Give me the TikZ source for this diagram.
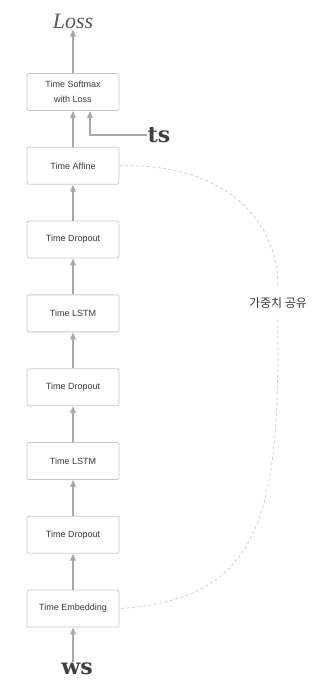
\documentclass[tikz,border=0pt]{standalone}
\usepackage{fontspec}
\setsansfont{Liberation Sans}
\newfontfamily\krfont{Noto Sans CJK KR}
\newfontfamily\lossfont{Liberation Serif}
\newfontfamily\wordfont{DejaVu Serif}
\usetikzlibrary{positioning, arrows.meta}
\definecolor{boxline}{HTML}{C8C8C8}
\definecolor{arrgray}{HTML}{A8A8A8}
\definecolor{txtgray}{HTML}{3A3A3A}

\begin{document}
\begin{tikzpicture}[
  x=1pt, y=1pt,
  >={Triangle[length=7pt, width=5.5pt]},
  every node/.style={font=\sffamily\fontsize{9}{11}\selectfont, text=txtgray},
  layer/.style = {draw=boxline, line width=0.8pt, rounded corners=2pt, align=center,
                  minimum width=92pt, minimum height=37pt, inner sep=2pt},
  arr/.style   = {->, line width=1.5pt, arrgray},
  share/.style = {dashed, dash pattern=on 3pt off 2.5pt, line width=0.7pt, boxline},
]
  \useasboundingbox (0,0) rectangle (335,685);
  % Column of layers, bottom input ws, top Loss
  \node[layer]                      (sm)   at (73,593) {Time Softmax\\[4pt]with Loss};
  \node[layer, below=36pt of sm]    (aff)  {Time Affine};
  \node[layer, below=36pt of aff]   (dr1)  {Time Dropout};
  \node[layer, below=36pt of dr1]   (ls1)  {Time LSTM};
  \node[layer, below=36pt of ls1]   (dr2)  {Time Dropout};
  \node[layer, below=36pt of dr2]   (ls2)  {Time LSTM};
  \node[layer, below=36pt of ls2]   (dr3)  {Time Dropout};
  \node[layer, below=36pt of dr3]   (emb)  {Time Embedding};

  \node[font=\lossfont\itshape\fontsize{22}{24}\selectfont, text=black!65, inner sep=1pt] (loss) at (73,664) {Loss};
  \node[font=\wordfont\bfseries\fontsize{22}{24}\selectfont, text=black!75, inner sep=1pt] (ts) at (159,550) {ts};
  \node[font=\wordfont\bfseries\fontsize{22}{24}\selectfont, text=black!75, inner sep=1pt] (ws) at (77,16) {ws};
  \node[font=\krfont\fontsize{12}{14}\selectfont, minimum height=33pt, inner sep=0pt] (wt) at (278,382) {가중치 공유};

  \foreach \a/\b in {emb/dr3, dr3/ls2, ls2/dr2, dr2/ls1, ls1/dr1, dr1/aff, aff/sm, sm/loss}
     \draw[arr] (\a) -- (\b);
  \draw[arr] (ws.north -| emb.south) -- (emb.south);
  \draw[arr] (ts.west) -| ([xshift=17pt]sm.south);

  % weight tying between Affine and Embedding
  \draw[share] (aff.east) .. controls (220,522) and (277,470) .. (wt.north);
  \draw[share] (wt.south) .. controls (279,175) and (265,86) .. (emb.east);
\end{tikzpicture}
\end{document}
